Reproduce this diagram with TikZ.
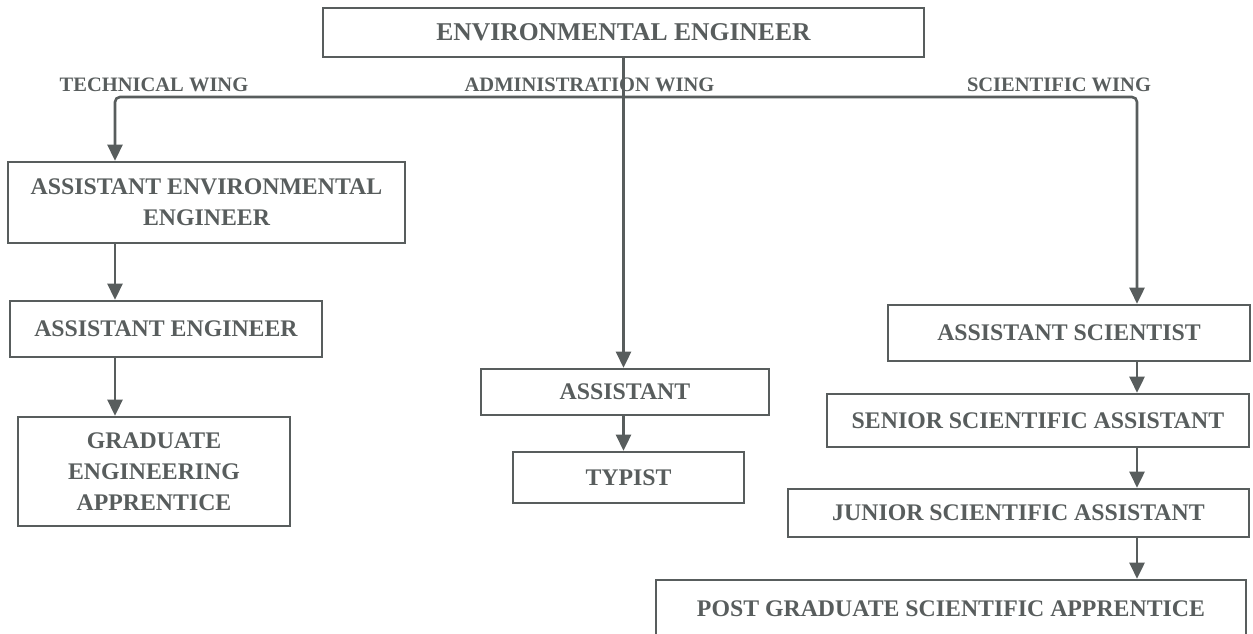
\documentclass[tikz,border=0pt]{standalone}
\usepackage{fontspec}
\setmainfont{Liberation Serif}
\usetikzlibrary{arrows.meta}
\definecolor{ink}{RGB}{88,93,93}
\begin{document}
\begin{tikzpicture}[x=1pt,y=-1pt,
  box/.style={draw=ink, line width=2.6pt, inner sep=0pt, text=ink,
    font=\bfseries\fontsize{23.8}{31}\selectfont, align=center},
  wing/.style={text=ink, inner sep=0pt, font=\bfseries\fontsize{20.5}{24}\selectfont},
  link/.style={draw=ink, line width=2.6pt, -{Triangle[width=15pt,length=16pt]}},
]
\useasboundingbox (0,0) rectangle (1253,633);

% head of the organisation
\node[box, minimum width=601pt, minimum height=49pt,
      font=\bfseries\fontsize{25.6}{30}\selectfont] (top) at (623.5,32.5) {ENVIRONMENTAL ENGINEER};

% wing captions
\node[wing] (wtech) at (154,85) {TECHNICAL WING};
\node[wing] (wadmin) at (589.5,85) {ADMINISTRATION WING};
\node[wing] (wsci) at (1059,85) {SCIENTIFIC WING};

% technical wing
\node[box, minimum width=397pt, minimum height=81pt] (aee) at (206.5,202.5) {ASSISTANT ENVIRONMENTAL\\ENGINEER};
\node[box, minimum width=312pt, minimum height=56pt] (ae) at (166,329) {ASSISTANT ENGINEER};
\node[box, minimum width=272pt, minimum height=109pt] (gea) at (154,471.5) {GRADUATE\\ENGINEERING\\APPRENTICE};

% administration wing
\node[box, minimum width=288pt, minimum height=46pt] (asst) at (625,392) {ASSISTANT};
\node[box, minimum width=231pt, minimum height=51pt] (typ) at (628.5,477.5) {TYPIST};

% scientific wing
\node[box, minimum width=362pt, minimum height=56pt] (as) at (1069,333) {ASSISTANT SCIENTIST};
\node[box, minimum width=422pt, minimum height=53pt] (ssa) at (1038,420.5) {SENIOR SCIENTIFIC ASSISTANT};
\node[box, minimum width=461pt, minimum height=48pt] (jsa) at (1018.5,513) {JUNIOR SCIENTIFIC ASSISTANT};
\node[box, minimum width=590pt, minimum height=58pt] (pgsa) at (951,609) {POST GRADUATE SCIENTIFIC APPRENTICE};

% branch columns
\coordinate (hub) at (623.5,97);
\coordinate (tcol) at (115,0);
\coordinate (scol) at (1137,0);

% connectors
\draw[link] (top.south) -- (asst.north -| top.south);
\draw[link, rounded corners=5pt] (hub) -| (aee.north -| tcol);
\draw[link, rounded corners=5pt] (hub) -| (as.north -| scol);
\draw[link] (aee.south -| tcol) -- (ae.north -| tcol);
\draw[link] (ae.south -| tcol) -- (gea.north -| tcol);
\draw[link] (asst.south -| top.south) -- (typ.north -| top.south);
\draw[link] (as.south -| scol) -- (ssa.north -| scol);
\draw[link] (ssa.south -| scol) -- (jsa.north -| scol);
\draw[link] (jsa.south -| scol) -- (pgsa.north -| scol);
\end{tikzpicture}
\end{document}
